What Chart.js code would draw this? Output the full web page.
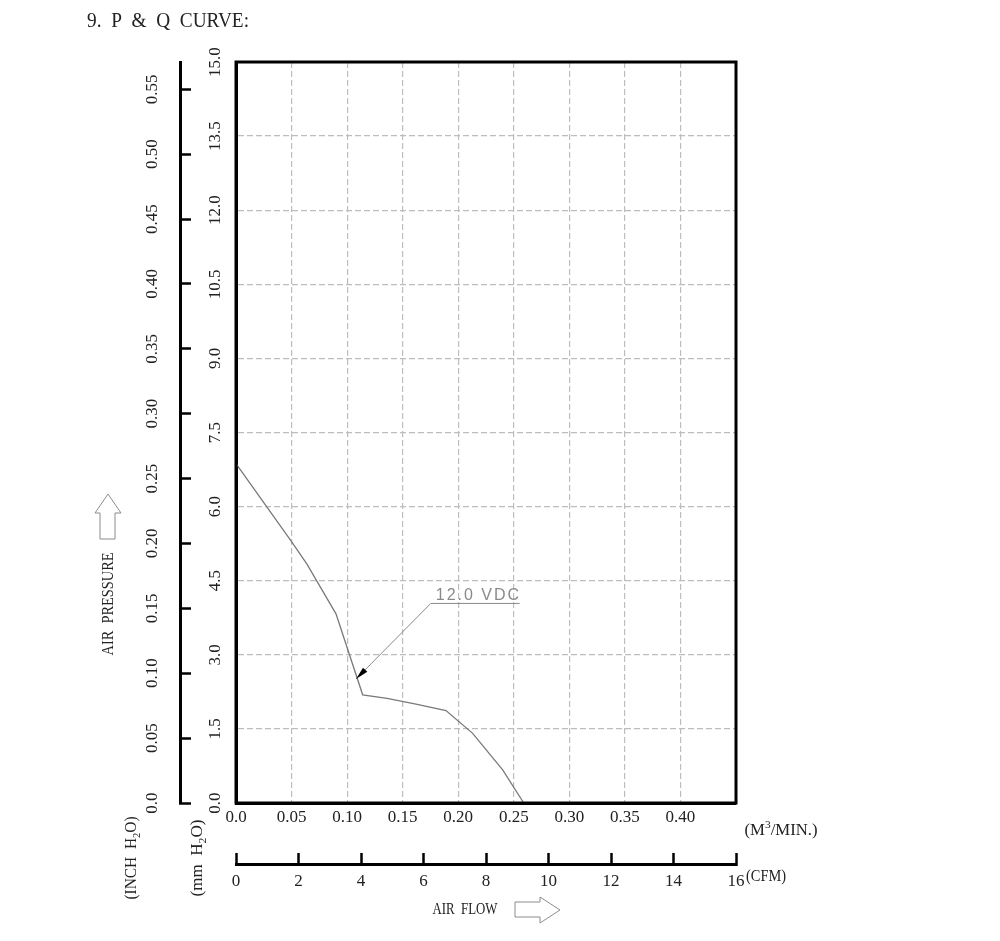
<!DOCTYPE html>
<html>
<head>
<meta charset="utf-8">
<script src="https://cdn.jsdelivr.net/npm/chart.js@4.4.1/dist/chart.umd.min.js"></script>
<style>
html, body { margin: 0; padding: 0; background: #fff; overflow: hidden; }
#wrap { width: 1000px; height: 941px; }
</style>
</head>
<body>
<div id="wrap"><canvas id="pq" width="1000" height="941"></canvas></div>
<script>
// P & Q curve of the fan at 12.0 VDC
const flowM3 = [0, 0.050, 0.064, 0.090, 0.114, 0.136, 0.162, 0.189, 0.213, 0.240, 0.259];
const pressureMm = [6.87, 5.29, 4.83, 3.83, 2.19, 2.12, 2.00, 1.87, 1.41, 0.67, 0];
const curveLabel = '12.0 VDC';

// axis ranges / steps
const m3Range = [0, 0.45], m3Step = 0.05;
const cfmRange = [0, 16], cfmStep = 2;
const mmRange = [0, 15], mmStep = 1.5;
const inchRange = [0, 0.571], inchStep = 0.05;

// where the callout leader meets the curve and bends (data units)
const calloutTip = [0.108, 2.51];
const calloutElbow = [0.1753, 4.04];
const calloutEndX = 0.2553;

const SERIF = '"Liberation Serif", "Times New Roman", serif';
const tickFont = { family: SERIF, size: 17 };
const INK = '#222';

const fmt2 = v => (v === 0 ? '0.0' : v.toFixed(2));

// draw a run of text pieces (for sub/superscripts), optionally squeezed to a width
function drawParts(ctx, parts, cx, cy, rot, targetW) {
    ctx.save();
    ctx.translate(cx, cy);
    ctx.rotate(rot);
    const widths = parts.map(p => {
        ctx.font = p[1] + 'px ' + SERIF;
        return ctx.measureText(p[0]).width;
    });
    const total = widths.reduce((a, b) => a + b, 0);
    if (targetW) ctx.scale(targetW / total, 1);
    ctx.fillStyle = INK;
    ctx.textBaseline = 'middle';
    ctx.textAlign = 'left';
    let x = -total / 2;
    parts.forEach((p, i) => {
        ctx.font = p[1] + 'px ' + SERIF;
        ctx.fillText(p[0], x, p[2] || 0);
        x += widths[i];
    });
    ctx.restore();
}

function outline(ctx, pts) {
    ctx.beginPath();
    pts.forEach((p, i) => (i ? ctx.lineTo(p[0], p[1]) : ctx.moveTo(p[0], p[1])));
    ctx.closePath();
    ctx.stroke();
}

const sheetDecor = {
    id: 'sheetDecor',
    afterDatasetsDraw(chart) {
        const { ctx, scales: { x, y } } = chart;
        const tx = x.getPixelForValue(calloutTip[0]), ty = y.getPixelForValue(calloutTip[1]);
        const ex = x.getPixelForValue(calloutElbow[0]), ey = y.getPixelForValue(calloutElbow[1]);
        const endX = x.getPixelForValue(calloutEndX);
        ctx.save();
        ctx.strokeStyle = '#8a8a8a';
        ctx.lineWidth = 1;
        ctx.beginPath();
        ctx.moveTo(endX, ey);
        ctx.lineTo(ex, ey);
        ctx.lineTo(tx, ty);
        ctx.stroke();
        // arrow head
        const ang = Math.atan2(ty - ey, tx - ex);
        const len = 13, half = 3;
        ctx.fillStyle = '#000';
        ctx.beginPath();
        ctx.moveTo(tx, ty);
        ctx.lineTo(tx - len * Math.cos(ang) + half * Math.sin(ang), ty - len * Math.sin(ang) - half * Math.cos(ang));
        ctx.lineTo(tx - len * Math.cos(ang) - half * Math.sin(ang), ty - len * Math.sin(ang) + half * Math.cos(ang));
        ctx.closePath();
        ctx.fill();
        ctx.fillStyle = '#8a8a8a';
        ctx.font = '16px "Liberation Sans", Arial, sans-serif';
        ctx.textBaseline = 'alphabetic';
        if ('letterSpacing' in ctx) ctx.letterSpacing = '2px';
        ctx.fillText(curveLabel, ex + 5, ey - 3);
        ctx.restore();
    },
    afterDraw(chart) {
        const { ctx, chartArea: a } = chart;
        ctx.save();
        ctx.strokeStyle = '#000';
        ctx.lineWidth = 3;
        ctx.strokeRect(a.left, a.top, a.right - a.left, a.bottom - a.top);

        drawParts(ctx, [['9.  P  &  Q  CURVE:', 20]], 168, 22, 0, 162);
        drawParts(ctx, [['(M', 16], ['3', 11, -6], ['/MIN.)', 16]], 781, 831, 0, 73);
        drawParts(ctx, [['(CFM)', 16]], 766, 877, 0, 40);
        drawParts(ctx, [['AIR  FLOW', 16]], 465, 910, 0, 65);
        drawParts(ctx, [['AIR  PRESSURE', 16]], 109, 604, -Math.PI / 2, 103);
        drawParts(ctx, [['(INCH  H', 16], ['2', 11, 5], ['O)', 16]], 132, 858, -Math.PI / 2, 83);
        drawParts(ctx, [['(mm  H', 16], ['2', 11, 5], ['O)', 16]], 198, 858, -Math.PI / 2, 77);

        ctx.strokeStyle = '#8c8c8c';
        ctx.lineWidth = 1;
        outline(ctx, [[108, 494], [121, 513], [115, 513], [115, 539], [100, 539], [100, 513], [95, 513]]);
        outline(ctx, [[560, 910], [540, 897], [540, 902], [515, 902], [515, 917], [540, 917], [540, 923]]);
        ctx.restore();
    }
};

const dashedGrid = { color: '#bdbdbd', lineWidth: 1.2, drawTicks: false };

new Chart(document.getElementById('pq').getContext('2d'), {
    type: 'line',
    data: {
        datasets: [{
            data: flowM3.map((v, i) => ({ x: v, y: pressureMm[i] })),
            borderColor: '#7a7a7a',
            borderWidth: 1.3,
            pointRadius: 0,
            tension: 0,
            fill: false,
            xAxisID: 'x',
            yAxisID: 'y'
        }]
    },
    options: {
        responsive: false,
        animation: false,
        layout: { padding: { left: 120, right: 264, top: 62, bottom: 17 } },
        plugins: { legend: { display: false }, tooltip: { enabled: false } },
        scales: {
            x: {
                type: 'linear', position: 'bottom', weight: 0,
                min: m3Range[0], max: m3Range[1],
                ticks: {
                    stepSize: m3Step, padding: 4, color: INK, font: tickFont, maxRotation: 0, autoSkip: false,
                    callback: v => (v > 0.44 ? '' : fmt2(v))
                },
                grid: dashedGrid,
                border: { color: '#000', width: 3, dash: [6, 3] },
                afterFit: s => { s.height = 61; }
            },
            x2: {
                type: 'linear', position: 'bottom', weight: 1,
                min: cfmRange[0], max: cfmRange[1],
                ticks: { stepSize: cfmStep, padding: 18, color: INK, font: tickFont, maxRotation: 0, autoSkip: false },
                grid: { drawOnChartArea: false, drawTicks: true, tickLength: -11, tickWidth: 2.5, tickColor: '#000' },
                border: { color: '#000', width: 3 },
                afterFit: s => { s.height = 60; }
            },
            y: {
                type: 'linear', position: 'left', weight: 0,
                min: mmRange[0], max: mmRange[1],
                ticks: {
                    stepSize: mmStep, minRotation: 90, maxRotation: 90, crossAlign: 'center', padding: 6,
                    color: INK, font: tickFont, autoSkip: false,
                    callback: v => v.toFixed(1)
                },
                grid: dashedGrid,
                border: { color: '#000', width: 3, dash: [6, 3] },
                afterFit: s => { s.width = 56; }
            },
            yIn: {
                type: 'linear', position: 'left', weight: 1,
                min: inchRange[0], max: inchRange[1],
                ticks: {
                    stepSize: inchStep, includeBounds: false, minRotation: 90, maxRotation: 90, crossAlign: 'center',
                    padding: 24, color: INK, font: tickFont, autoSkip: false,
                    callback: fmt2
                },
                grid: { drawOnChartArea: false, drawTicks: true, tickLength: -11, tickWidth: 2.5, tickColor: '#000' },
                border: { color: '#000', width: 3 },
                afterFit: s => { s.width = 60; }
            }
        }
    },
    plugins: [sheetDecor]
});
</script>
</body>
</html>
